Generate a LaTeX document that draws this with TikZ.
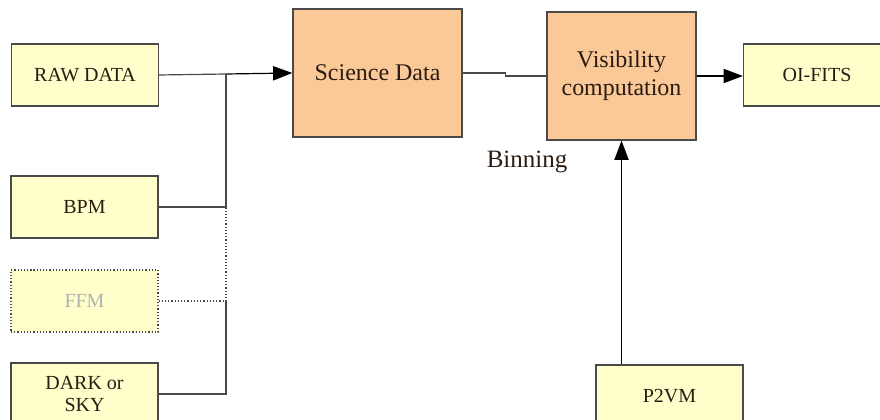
\documentclass[tikz,border=0pt]{standalone}
\usepackage{fontspec}
\setmainfont{Liberation Serif}
\usetikzlibrary{arrows.meta}
\definecolor{boxyellow}{HTML}{FFFFCC}
\definecolor{boxorange}{HTML}{FBC898}
\definecolor{edgegrey}{HTML}{4A4A4A}
\definecolor{inkbrown}{HTML}{2A1C12}
\tikzset{
    databox/.style={draw=edgegrey, fill=boxyellow, line width=0.6pt, minimum width=147\ux, minimum height=62\ux, align=center, inner sep=0pt, text=inkbrown, font=\fontsize{10}{11.5}\selectfont},
    procbox/.style={draw=edgegrey, fill=boxorange, line width=0.6pt, minimum height=128\ux, align=center, inner sep=0pt, text=inkbrown, font=\fontsize{12}{14}\selectfont},
    link/.style={draw=edgegrey, line width=0.6pt},
    tip/.style={-{Triangle[length=3.4mm, width=2.5mm]}, black}
}
\newlength{\ux}
\setlength{\ux}{0.176mm}
\begin{document}
\begin{tikzpicture}[x=0.176mm, y=0.176mm]
    \useasboundingbox (0,0) rectangle (880,419);
    \begin{scope}
    \clip (0,0) rectangle (880,419);
    \node [databox] (raw) at (85,344) {RAW DATA};
    \node [databox] (bpm) at (84.5,212) {BPM};
    \node [databox, densely dotted, text=gray!60] (ffm) at (84.5,118) {FFM};
    \node [databox] (dark) at (84.5,25) {DARK or\\SKY};
    \node [procbox, minimum width=169\ux] (sci) at (377.5,346) {Science Data};
    \node [procbox, minimum width=149\ux] (vis) at (621.5,343) {Visibility\\computation};
    \node [databox] (oifits) at (817,344) {OI-FITS};
    \node [databox] (p2vm) at (669.5,23) {P2VM};
    \node [font=\fontsize{12.5}{15}\selectfont, text=inkbrown] (binning) at (527,257) {Binning};
    \end{scope}
    \coordinate (join) at (226,345);
    \draw [link] (raw.east) -- (join);
    \draw [link, tip] (join) -- (sci.west);
    \draw [link] (bpm.east) -| (join);
    \draw [link, densely dotted] (ffm.east) -| (join |- bpm.east);
    \draw [link] (dark.east) -| (join |- ffm.east);
    \draw [link] (sci.east) -- ++(43,0) |- (vis.west);
    \draw [link, tip] (vis.east) -- (vis.east -| oifits.west);
    \draw [link, tip] (vis.south |- p2vm.north) -- (vis.south);
\end{tikzpicture}
\end{document}
